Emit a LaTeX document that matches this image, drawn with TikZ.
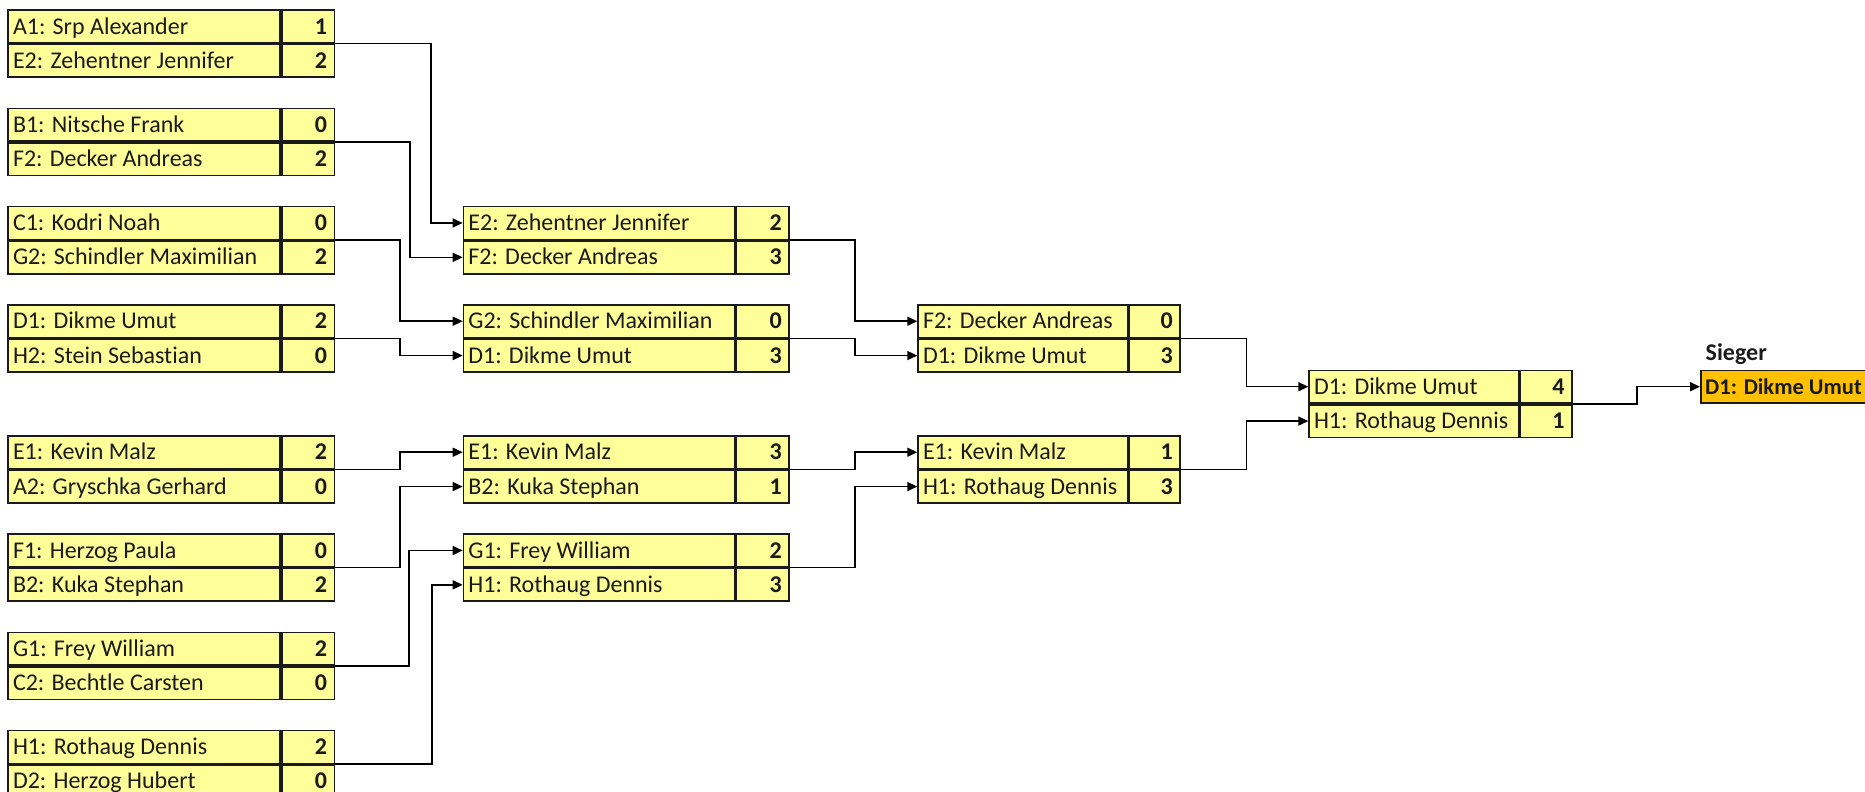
\documentclass[tikz,border=0pt]{standalone}
\usepackage{fontspec}
\setmainfont{Carlito}[Ligatures=NoCommon]
\usetikzlibrary{arrows.meta}
\definecolor{cellyellow}{HTML}{FFFF99}
\definecolor{wingold}{HTML}{FFC000}
\definecolor{ink}{HTML}{1A1A1A}
\tikzset{
  cellbox/.style={rectangle,draw=ink,fill=cellyellow,line width=1.6pt,inner sep=0pt,minimum height=32.75pt},
  celltext/.style={inner sep=0pt,text=ink,font=\fontsize{24}{28}\selectfont},
  conn/.style={draw=black,line width=1.5pt,-{Triangle[length=10pt,width=9pt]}}
}
\newcommand\match[9]{%
  \pgfmathsetmacro\mtop{9.3+32.75*#3}%
  \node[cellbox,minimum width=#4pt,anchor=north west] (#1an) at (#2,\mtop) {};
  \node[cellbox,minimum width=#5pt,anchor=north west] (#1as) at (#1an.north east) {};
  \node[cellbox,minimum width=#4pt,anchor=north west] (#1bn) at (#1an.south west) {};
  \node[cellbox,minimum width=#5pt,anchor=north west] (#1bs) at (#1bn.north east) {};
  \node[celltext,anchor=base west] (#1at) at ([shift={(5.5pt,-24.8pt)}]#1an.north west) {#6};
  \node[celltext,anchor=base east] (#1av) at ([shift={(-8pt,-24.8pt)}]#1as.north east) {\bfseries #7};
  \node[celltext,anchor=base west] (#1bt) at ([shift={(5.5pt,-24.8pt)}]#1bn.north west) {#8};
  \node[celltext,anchor=base east] (#1bv) at ([shift={(-8pt,-24.8pt)}]#1bs.north east) {\bfseries #9};
}
\begin{document}
\begin{tikzpicture}[x=1pt,y=-1pt]
\useasboundingbox (0,0) rectangle (1865,792);
\clip (0,0) rectangle (1865,792);
% Round 1
\match{g1}{7.3}{0}{272}{52.7}{A1: Srp Alexander}{1}{E2: Zehentner Jennifer}{2}
\match{g2}{7.3}{3}{272}{52.7}{B1: Nitsche Frank}{0}{F2: Decker Andreas}{2}
\match{g3}{7.3}{6}{272}{52.7}{C1: Kodri Noah}{0}{G2: Schindler Maximilian}{2}
\match{g4}{7.3}{9}{272}{52.7}{D1: Dikme Umut}{2}{H2: Stein Sebastian}{0}
\match{g5}{7.3}{13}{272}{52.7}{E1: Kevin Malz}{2}{A2: Gryschka Gerhard}{0}
\match{g6}{7.3}{16}{272}{52.7}{F1: Herzog Paula}{0}{B2: Kuka Stephan}{2}
\match{g7}{7.3}{19}{272}{52.7}{G1: Frey William}{2}{C2: Bechtle Carsten}{0}
\match{g8}{7.3}{22}{272}{52.7}{H1: Rothaug Dennis}{2}{D2: Herzog Hubert}{0}
% Round 2
\match{q1}{462.7}{6}{271.3}{52.7}{E2: Zehentner Jennifer}{2}{F2: Decker Andreas}{3}
\match{q2}{462.7}{9}{271.3}{52.7}{G2: Schindler Maximilian}{0}{D1: Dikme Umut}{3}
\match{q3}{462.7}{13}{271.3}{52.7}{E1: Kevin Malz}{3}{B2: Kuka Stephan}{1}
\match{q4}{462.7}{16}{271.3}{52.7}{G1: Frey William}{2}{H1: Rothaug Dennis}{3}
% Round 3
\match{s1}{917.3}{9}{209.5}{51}{F2: Decker Andreas}{0}{D1: Dikme Umut}{3}
\match{s2}{917.3}{13}{209.5}{51}{E1: Kevin Malz}{1}{H1: Rothaug Dennis}{3}
% Final
\match{f}{1308.3}{11}{209.7}{51.5}{D1: Dikme Umut}{4}{H1: Rothaug Dennis}{1}
% Winner
\node[rectangle,draw=ink,fill=wingold,line width=1.6pt,inner sep=0pt,minimum height=32.75pt,minimum width=260pt,anchor=north west] (win) at (1700,369.55) {};
\node[celltext,anchor=base west,font=\fontsize{22.5}{27}\selectfont] (wint) at ([shift={(5pt,-24.8pt)}]win.north west) {\bfseries D1: Dikme Umut};
\node[celltext,anchor=base west] (sieger) at ([shift={(5.5pt,9pt)}]win.north west) {\bfseries Sieger};
% Connectors round 1 -> 2
\draw[conn] (g1as.south east) -- ++(96,0) |- (q1an.west);
\draw[conn] (g2as.south east) -- ++(74.7,0) |- (q1bn.west);
\draw[conn] (g3as.south east) -- ++(64.7,0) |- (q2an.west);
\draw[conn] (g4as.south east) -- ++(64.7,0) |- (q2bn.west);
\draw[conn] (g5as.south east) -- ++(64.7,0) |- (q3an.west);
\draw[conn] (g6as.south east) -- ++(64.7,0) |- (q3bn.west);
\draw[conn] (g7as.south east) -- ++(74,0) |- (q4an.west);
\draw[conn] (g8as.south east) -- ++(97,0) |- (q4bn.west);
% round 2 -> 3
\draw[conn] (q1as.south east) -- ++(65,0) |- (s1an.west);
\draw[conn] (q2as.south east) -- ++(65,0) |- (s1bn.west);
\draw[conn] (q3as.south east) -- ++(65,0) |- (s2an.west);
\draw[conn] (q4as.south east) -- ++(65,0) |- (s2bn.west);
% round 3 -> final
\draw[conn] (s1as.south east) -- ++(65.4,0) |- (fan.west);
\draw[conn] (s2as.south east) -- ++(65.4,0) |- (fbn.west);
% final -> winner
\draw[conn] (fas.south east) -- ++(64.5,0) |- (win.west);
\end{tikzpicture}
\end{document}
